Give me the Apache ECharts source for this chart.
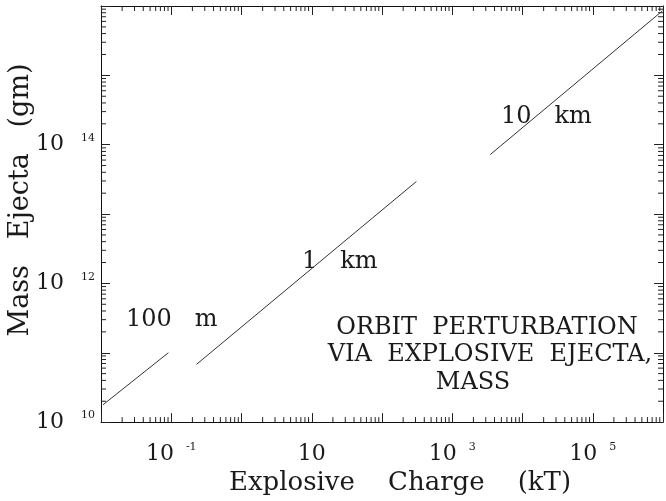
<!DOCTYPE html>
<html>
<head>
<meta charset="utf-8">
<script src="https://cdn.jsdelivr.net/npm/echarts@6/dist/echarts.min.js"></script>
<style>html,body{margin:0;padding:0;background:#fff}#c{width:666px;height:501px}</style>
</head>
<body>
<div id="c"></div>
<script>
// ---- data ----
const xMin = 0.01, xMax = 1e6;
const yMin = 1e10, yMax = 1e16;
const xLabelPowers = [-1, 1, 3, 5];
const yLabelPowers = [10, 12, 14];
const line100mX = [0.0107, 0.091];
const line100mY = [1.78e10, 1.0e11];
const line1kmX = [0.229, 309];
const line1kmY = [6.8e10, 2.95e13];
const line10kmX = [3470, 9.8e5];
const line10kmY = [7.2e13, 8.5e15];
const lineNames = ['100   m', '1   km', '10   km'];
const noteLines = ['ORBIT  PERTURBATION', 'VIA  EXPLOSIVE  EJECTA,', 'MASS'];
const xTitle = 'Explosive    Charge    (kT)';
const yTitle = 'Mass   Ejecta   (gm)';

// minor log ticks (axis decoration)
const xMinor = [], yMinor = [];
for (let e = -2; e < 6; e++) for (let k = 2; k <= 9; k++) xMinor.push([k * Math.pow(10, e), yMin]);
for (let e = 10; e < 16; e++) for (let k = 2; k <= 9; k++) yMinor.push([xMin, k * Math.pow(10, e)]);

const FONT = 'DejaVu Serif';
const INK = '#1a1a1a';
function richFor(gap) {
  return {
    b: { fontFamily: FONT, fontSize: 22, color: INK, lineHeight: 24 },
    s: { fontFamily: FONT, fontSize: 11, color: INK, verticalAlign: 'top', lineHeight: 12, padding: [0, 0, 0, gap] }
  };
}
function fmt(powers) {
  return function (v) {
    const p = Math.round(Math.log10(v));
    if (powers.indexOf(p) < 0) return '';
    if (p === 1) return '{b|10}';
    return '{b|10}{s|' + p + '}';
  };
}
const tickStyle = { stroke: '#222', lineWidth: 1 };
function pair(a, b) { return a.map((v, i) => [v, b[i]]); }

const chart = echarts.init(document.getElementById('c'), null, { renderer: 'canvas' });
const axLine = { lineStyle: { color: '#111', width: 1 } };
const majTick = { inside: true, length: 9, lineStyle: { color: '#222' } };
const txt = (t, x, y, size, align) => ({
  type: 'text', x: x, y: y,
  style: { text: t, font: size + 'px "DejaVu Serif"', fill: INK, align: align || 'left', textAlign: align || 'left', verticalAlign: 'middle', textVerticalAlign: 'middle' }
});
chart.setOption({
  animation: false,
  backgroundColor: '#fff',
  grid: { left: 101, right: 1, top: 6, bottom: 70, containLabel: false },
  xAxis: [{
    type: 'log', logBase: 10, min: xMin, max: xMax, interval: 1,
    axisLine: axLine, axisTick: majTick, splitLine: { show: false },
    axisLabel: { formatter: fmt(xLabelPowers), rich: richFor(12), margin: 20, showMinLabel: true, showMaxLabel: true },
    name: xTitle, nameLocation: 'middle', nameGap: 40,
    nameTextStyle: { fontFamily: FONT, fontSize: 26, color: INK, padding: [0, 0, 0, 36] }
  }, {
    type: 'log', logBase: 10, min: xMin, max: xMax, interval: 1, position: 'top',
    axisLine: axLine, axisTick: majTick, axisLabel: { show: false }, splitLine: { show: false }
  }],
  yAxis: [{
    type: 'log', logBase: 10, min: yMin, max: yMax, interval: 1,
    axisLine: axLine, axisTick: majTick, splitLine: { show: false },
    axisLabel: { formatter: fmt(yLabelPowers), rich: richFor(17), margin: 6 }
  }, {
    type: 'log', logBase: 10, min: yMin, max: yMax, interval: 1, position: 'right',
    axisLine: axLine, axisTick: majTick, axisLabel: { show: false }, splitLine: { show: false }
  }],
  series: [
    { type: 'line', name: lineNames[0], data: pair(line100mX, line100mY), showSymbol: false, lineStyle: { color: '#333', width: 1 } },
    { type: 'line', name: lineNames[1], data: pair(line1kmX, line1kmY), showSymbol: false, lineStyle: { color: '#333', width: 1 } },
    { type: 'line', name: lineNames[2], data: pair(line10kmX, line10kmY), showSymbol: false, lineStyle: { color: '#333', width: 1 } },
    {
      type: 'custom', data: xMinor, clip: false, silent: true,
      renderItem: function (params, api) {
        const b = api.coord([api.value(0), yMin]);
        const t = api.coord([api.value(0), yMax]);
        return { type: 'group', children: [
          { type: 'line', shape: { x1: b[0], y1: b[1], x2: b[0], y2: b[1] - 5 }, style: tickStyle },
          { type: 'line', shape: { x1: t[0], y1: t[1], x2: t[0], y2: t[1] + 5 }, style: tickStyle }
        ] };
      }
    },
    {
      type: 'custom', data: yMinor, clip: false, silent: true,
      renderItem: function (params, api) {
        const l = api.coord([xMin, api.value(1)]);
        const r = api.coord([xMax, api.value(1)]);
        return { type: 'group', children: [
          { type: 'line', shape: { x1: l[0], y1: l[1], x2: l[0] + 5, y2: l[1] }, style: tickStyle },
          { type: 'line', shape: { x1: r[0], y1: r[1], x2: r[0] - 5, y2: r[1] }, style: tickStyle }
        ] };
      }
    }
  ],
  graphic: [
    txt(lineNames[0], 126, 320, 24),
    txt(lineNames[1], 302, 262, 24),
    txt(lineNames[2], 501, 117, 24),
    txt(noteLines[0], 487, 328, 24, 'center'),
    txt(noteLines[1], 490, 355, 24, 'center'),
    txt(noteLines[2], 473, 383, 24, 'center'),
    { type: 'text', x: 21, y: 200, rotation: Math.PI / 2,
      style: { text: yTitle, font: '27px "DejaVu Serif"', fill: INK, align: 'center', textAlign: 'center', verticalAlign: 'middle', textVerticalAlign: 'middle' } }
  ]
});
</script>
</body>
</html>
